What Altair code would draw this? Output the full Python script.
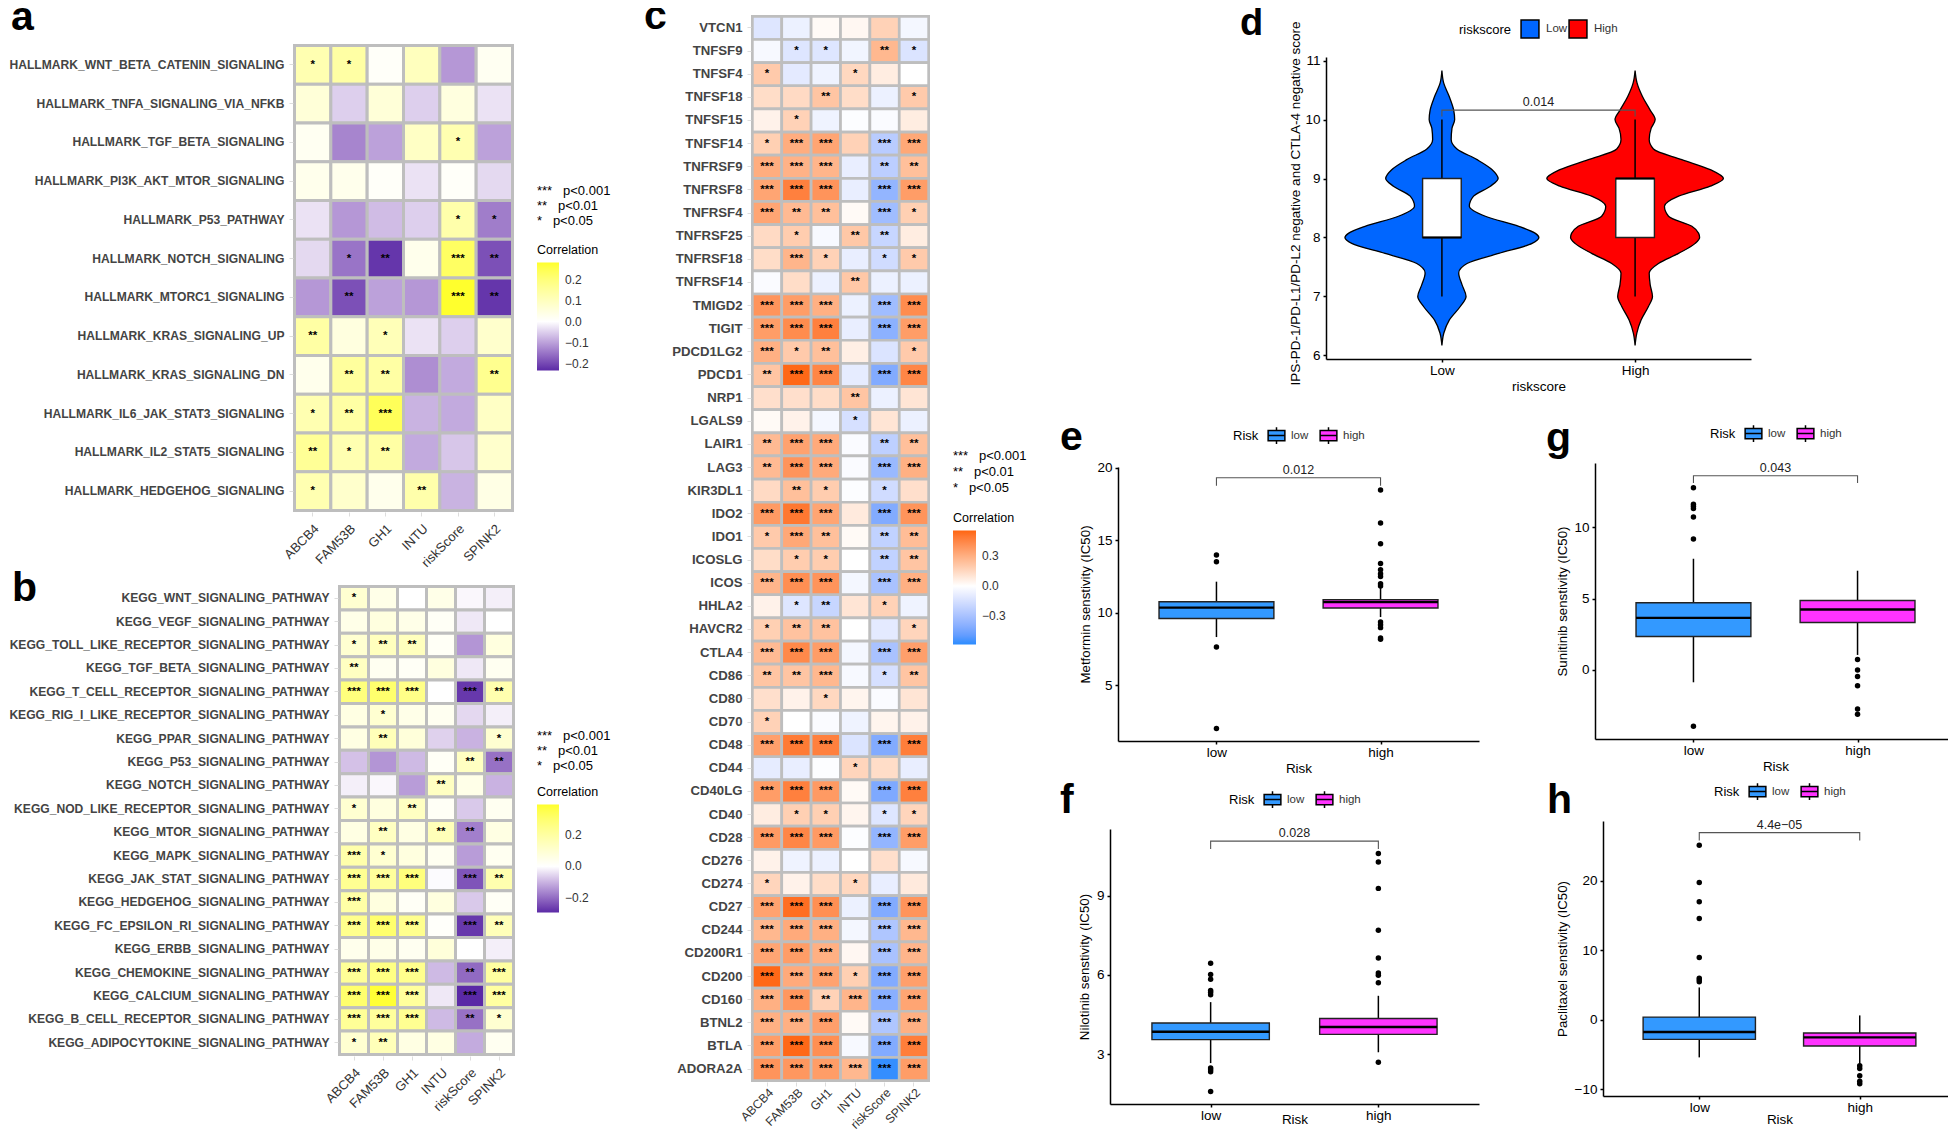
import altair as alt
import pandas as pd

GENES = ["ABCB4", "FAM53B", "GH1", "INTU", "riskScore", "SPINK2"]

A_ROWS = ["HALLMARK_WNT_BETA_CATENIN_SIGNALING", "HALLMARK_TNFA_SIGNALING_VIA_NFKB", "HALLMARK_TGF_BETA_SIGNALING",
          "HALLMARK_PI3K_AKT_MTOR_SIGNALING", "HALLMARK_P53_PATHWAY", "HALLMARK_NOTCH_SIGNALING",
          "HALLMARK_MTORC1_SIGNALING", "HALLMARK_KRAS_SIGNALING_UP", "HALLMARK_KRAS_SIGNALING_DN",
          "HALLMARK_IL6_JAK_STAT3_SIGNALING", "HALLMARK_IL2_STAT5_SIGNALING", "HALLMARK_HEDGEHOG_SIGNALING"]
A_VALUES = [
    [.12, .14, .01, .10, -.11, .02], [.06, -.05, .06, -.05, .05, -.03], [.02, -.13, -.10, .09, .12, -.10],
    [.03, .03, .01, -.03, .01, -.04], [-.03, -.11, -.07, -.05, .13, -.14], [-.04, -.15, -.22, .03, .23, -.19],
    [-.11, -.19, -.10, -.11, .28, -.22], [.14, .05, .11, -.03, -.05, .08], [.03, .15, .14, -.12, -.09, .17],
    [.12, .14, .24, -.08, -.09, .09], [.16, .12, .14, -.09, -.06, .08], [.12, .08, .03, .13, -.08, .04]]
A_STARS = ["110000", "000000", "000010", "000000", "000011", "012032", "020032", "201000", "022002", "123000",
           "212000", "100200"]

B_ROWS = ["KEGG_WNT_SIGNALING_PATHWAY", "KEGG_VEGF_SIGNALING_PATHWAY", "KEGG_TOLL_LIKE_RECEPTOR_SIGNALING_PATHWAY",
          "KEGG_TGF_BETA_SIGNALING_PATHWAY", "KEGG_T_CELL_RECEPTOR_SIGNALING_PATHWAY",
          "KEGG_RIG_I_LIKE_RECEPTOR_SIGNALING_PATHWAY", "KEGG_PPAR_SIGNALING_PATHWAY", "KEGG_P53_SIGNALING_PATHWAY",
          "KEGG_NOTCH_SIGNALING_PATHWAY", "KEGG_NOD_LIKE_RECEPTOR_SIGNALING_PATHWAY", "KEGG_MTOR_SIGNALING_PATHWAY",
          "KEGG_MAPK_SIGNALING_PATHWAY", "KEGG_JAK_STAT_SIGNALING_PATHWAY", "KEGG_HEDGEHOG_SIGNALING_PATHWAY",
          "KEGG_FC_EPSILON_RI_SIGNALING_PATHWAY", "KEGG_ERBB_SIGNALING_PATHWAY", "KEGG_CHEMOKINE_SIGNALING_PATHWAY",
          "KEGG_CALCIUM_SIGNALING_PATHWAY", "KEGG_B_CELL_RECEPTOR_SIGNALING_PATHWAY",
          "KEGG_ADIPOCYTOKINE_SIGNALING_PATHWAY"]
B_VALUES = [
    [.10, .05, .00, .05, -.01, -.02], [.05, .07, .05, .02, -.03, 0], [.10, .14, .14, .02, -.14, .07],
    [.13, .03, .02, .07, -.03, .03], [.27, .30, .25, .0, -.27, .17], [.06, .10, .05, .03, -.05, -.02],
    [.06, .15, .08, -.06, -.10, .10], [-.08, -.14, -.09, .02, .13, -.19], [-.02, -.01, -.13, .13, .05, -.10],
    [.10, .07, .13, .02, -.07, .03], [.06, .13, .06, .15, -.17, .06], [.18, .10, .07, .03, -.13, .03],
    [.23, .21, .27, -.005, -.23, .17], [.19, .07, .02, .07, -.07, .02], [.24, .30, .24, .01, -.27, .15],
    [.04, .05, .03, .08, 0, -.02], [.22, .26, .24, -.09, -.20, .20], [.30, .38, .21, -.03, -.29, .20],
    [.22, .21, .23, -.09, -.19, .10], [.10, .15, .06, .06, -.11, .03]]
B_STARS = ["100000", "000000", "122000", "200000", "333032", "010000", "020001", "000022", "000200", "102000",
           "020220", "310000", "333032", "300000", "333032", "000000", "333023", "333033", "333021", "120000"]

C_ROWS = ["VTCN1", "TNFSF9", "TNFSF4", "TNFSF18", "TNFSF15", "TNFSF14", "TNFRSF9", "TNFRSF8", "TNFRSF4", "TNFRSF25",
          "TNFRSF18", "TNFRSF14", "TMIGD2", "TIGIT", "PDCD1LG2", "PDCD1", "NRP1", "LGALS9", "LAIR1", "LAG3",
          "KIR3DL1", "IDO2", "IDO1", "ICOSLG", "ICOS", "HHLA2", "HAVCR2", "CTLA4", "CD86", "CD80", "CD70", "CD48",
          "CD44", "CD40LG", "CD40", "CD28", "CD276", "CD274", "CD27", "CD244", "CD200R1", "CD200", "CD160", "BTNL2",
          "BTLA", "ADORA2A"]
C_VALUES = [
    [-.12, -.07, .02, .03, .17, -.04], [-.03, -.12, -.12, -.05, .27, -.13], [.20, -.10, -.06, .15, .07, 0],
    [.13, .14, .22, .13, -.07, .20], [.05, .17, -.06, -.01, -.02, .07], [.18, .31, .34, .17, -.25, .33],
    [.31, .29, .28, -.08, -.24, .24], [.34, .47, .40, -.08, -.37, .37], [.34, .26, .24, .02, -.33, .18],
    [.14, .19, -.03, .21, -.20, .07], [.13, .28, .17, -.08, -.17, .20], [-.02, .13, -.07, .21, -.07, -.07],
    [.40, .37, .30, -.07, -.33, .43], [.37, .43, .47, -.08, -.39, .37], [.30, .20, .24, .06, -.13, .20],
    [.22, .55, .45, -.09, -.42, .45], [.12, .12, .13, .22, -.07, .10], [.02, .05, -.04, -.15, .10, -.07],
    [.26, .35, .32, -.02, -.23, .24], [.26, .40, .32, -.02, -.35, .30], [.14, .24, .19, -.01, -.17, .12],
    [.38, .50, .34, .08, -.42, .40], [.20, .33, .24, .02, -.22, .25], [.13, .19, .19, -.00, -.22, .22],
    [.28, .42, .40, -.04, -.30, .30], [.05, -.12, -.20, .10, .17, -.06], [.18, .23, .23, 0, -.10, .16],
    [.26, .44, .37, -.04, -.30, .36], [.22, .22, .27, -.03, -.15, .22], [.12, .05, .15, .04, -.02, .10],
    [.17, 0, -.02, -.06, .04, .05], [.36, .49, .47, -.13, -.42, .48], [-.09, -.08, -.01, .16, .13, -.08],
    [.37, .47, .38, .02, -.43, .47], [.07, .18, .18, .04, -.12, .16], [.38, .45, .38, -.01, -.37, .37],
    [.05, -.06, -.07, 0, .12, -.03], [.16, .05, .13, .15, -.08, .08], [.35, .53, .42, -.07, -.42, .40],
    [.27, .32, .30, -.04, -.28, .27], [.34, .37, .30, .03, -.30, .28], [.55, .32, .35, .18, -.42, .36],
    [.30, .39, .17, .28, -.40, .34], [.30, .30, .36, .02, -.28, .30], [.37, .55, .42, -.03, -.42, .48],
    [.40, .39, .37, .27, -.58, .37]]
C_STARS = ["000000", "011021", "100100", "002001", "010000", "133033", "333022", "333033", "322031", "010220",
           "031011", "000200", "333033", "333033", "312001", "233033", "000200", "000100", "233022", "233033",
           "021010", "333033", "132022", "011022", "333033", "012010", "122001", "333033", "223012", "001000",
           "100000", "333033", "000100", "333033", "011011", "333033", "000000", "100100", "333033", "333033",
           "333033", "333133", "332333", "333033", "333033", "333333"]

VIOLIN_Y = [10.83, 10.62, 10.39, 10.16, 10.0, 9.85, 9.66, 9.5, 9.32, 9.15, 9.0, 8.87, 8.7, 8.53, 8.36, 8.19, 8.07,
            8.0, 7.9, 7.73, 7.56, 7.4, 7.2, 7.0, 6.83, 6.6, 6.38, 6.17]
VIOLIN_LOW = [0, .009, .038, .061, .066, .052, .048, .078, .182, .26, .291, .251, .164, .142, .225, .398, .484, .502,
              .467, .294, .13, .087, .104, .125, .095, .038, .01, 0]
VIOLIN_HIGH = [0, .01, .038, .078, .104, .083, .073, .095, .242, .389, .457, .389, .225, .152, .173, .294, .329,
               .334, .311, .225, .121, .073, .078, .09, .069, .031, .009, 0]

BOX_E = {"low": [9.6, 10.35, 10.76, 8.32, 12.14], "high": [10.32, 10.74, 10.9, 9.7, 11.77]}
OUT_E = {"low": [13.98, 13.52, 7.63, 2.02],
         "high": [18.46, 16.18, 14.76, 13.4, 12.97, 12.69, 12.5, 12.0, 11.84, 9.36, 9.17, 8.97, 8.25, 8.16]}
BOX_F = {"low": [3.55, 3.85, 4.18, 2.66, 4.97], "high": [3.75, 4.03, 4.35, 3.07, 5.21]}
OUT_F = {"low": [6.44, 6.02, 5.84, 5.41, 5.34, 5.25, 2.47, 2.41, 2.33, 1.58],
         "high": [10.6, 10.28, 9.28, 7.69, 6.64, 6.07, 5.99, 5.7, 2.69]}
BOX_G = {"low": [2.34, 3.65, 4.71, -0.87, 7.8], "high": [3.33, 4.24, 4.87, 1.05, 6.96]}
OUT_G = {"low": [12.79, 11.62, 11.48, 11.33, 10.73, 9.18, -3.96], "high": [0.73, 0, -0.47, -1.12, -2.74, -3.11]}
BOX_H = {"low": [-2.82, -1.77, 0.38, -5.41, 4.64], "high": [-3.78, -2.54, -1.91, -6.46, 0.62]}
OUT_H = {"low": [25.07, 19.71, 16.94, 14.55, 8.95, 5.98, 5.74, 5.45], "high": [-6.6, -7.0, -8.04, -8.85, -9.19]}

FONT = "Liberation Sans"
M = 8  # page margin
HEIGHT = 1122
WIDTH = 1940
PURPLE = ["#5b2aa6", "#ffffff", "#ffff2b"]
ORANGE = ["#2b8cff", "#ffffff", "#ff6510"]
layers = []


def annotate(text, x, y, size=12, weight="normal", color="#000000", align="left", baseline="middle"):
    layers.append(alt.Chart(pd.DataFrame({"t": [text]})).mark_text(
        x=x - M, y=y - M, fontSize=size, fontWeight=weight, color=color, align=align, baseline=baseline, font=FONT
    ).encode(text="t:N"))


def heatmap(rows, values, stars, x0, x1, y0, y1, gutter, scheme, domain, ticks, leg, label_size, star_size,
            xfont=13, xpad=6):
    recs, srecs = [], []
    for r, vals, st in zip(rows, values, stars):
        for g, v, s in zip(GENES, vals, st):
            recs.append({"row": r, "gene": g, "value": v})
            if s != "0":
                srecs.append({"row": r, "gene": g, "star": "*" * int(s)})
    h = gutter / 2
    xs = alt.Scale(type="band", domain=GENES, range=[x0 + h - M, x1 - h - M], paddingInner=0, paddingOuter=0)
    ys = alt.Scale(type="band", domain=rows, range=[y0 + h - M, y1 - h - M], paddingInner=0, paddingOuter=0)
    xa = alt.Axis(orient="bottom", title=None, offset=y1 - M - HEIGHT, labelAngle=315, labelAlign="right",
                  labelBaseline="top", labelFont=FONT, labelFontSize=xfont, labelColor="#333333", domain=False,
                  ticks=True, tickColor="#dddddd", tickSize=4, grid=False, labelPadding=xpad, labelOverlap=False)
    ya = alt.Axis(orient="left", title=None, offset=-(x0 - M), labelFont=FONT, labelFontSize=label_size,
                  labelFontWeight="bold", labelColor="#444444", domain=False, ticks=True, tickColor="#dddddd",
                  tickSize=4, grid=False, labelPadding=5, labelLimit=500, labelOverlap=False)
    lg = alt.Legend(orient="none", legendX=leg[0] - M, legendY=leg[1] - M, title="Correlation", titleFont=FONT,
                    titleFontSize=12.5, titleFontWeight="normal", titleColor="#000000", titlePadding=6,
                    gradientLength=leg[2], gradientThickness=leg[3], gradientStrokeWidth=0, values=ticks, format=".1f",
                    labelFont=FONT, labelFontSize=12, labelColor="#333333", labelOffset=6, type="gradient")
    layers.append(alt.Chart(pd.DataFrame(recs)).mark_rect(stroke="#bebebe", strokeWidth=gutter).encode(
        x=alt.X("gene:N", scale=xs, axis=xa),
        y=alt.Y("row:N", scale=ys, axis=ya),
        fill=alt.Fill("value:Q", scale=alt.Scale(domain=domain, range=scheme, interpolate="lab"), legend=lg)))
    layers.append(alt.Chart(pd.DataFrame(srecs)).mark_text(font=FONT, fontSize=star_size, color="#000000", dy=0,
                                                           fontWeight="bold", baseline="middle").encode(
        x=alt.X("gene:N", scale=xs, axis=None),
        y=alt.Y("row:N", scale=ys, axis=None),
        text="star:N"))


def pos_axes(x0, x1, y0, y1, domain, ytitle, xtitle, yticks, labels, title_pad=4.5, xpad=3, ytfont=13.3, title_y=None):
    xa = alt.Axis(orient="bottom", offset=y1 - M - HEIGHT, title=xtitle, values=[1, 2],
                  labelExpr="datum.value == 1 ? '%s' : '%s'" % labels, labelFont=FONT, labelFontSize=13.5,
                  labelColor="#000000", titleFont=FONT, titleFontSize=13.5, titleFontWeight="normal",
                  titleColor="#000000", grid=False, domainColor="#000000", domainWidth=1.5, tickColor="#000000",
                  tickWidth=1.5, tickSize=3, labelPadding=1, titlePadding=xpad)
    extra = {} if title_y is None else {"titleY": title_y - M}
    ya = alt.Axis(orient="left", offset=-(x0 - M), title=ytitle, values=yticks, format="d", labelFont=FONT,
                  labelFontSize=13.5, labelColor="#000000", titleFont=FONT, titleFontSize=ytfont,
                  titleFontWeight="normal", titleColor="#000000", grid=False, domainColor="#000000", domainWidth=1.5,
                  tickColor="#000000", tickWidth=1.5, tickSize=3, labelPadding=3, titlePadding=title_pad, **extra)
    xs = alt.Scale(domain=[0.4, 2.6], range=[x0 - M, x1 - M], nice=False, zero=False)
    ys = alt.Scale(domain=domain, range=[y1 - M, y0 - M], nice=False, zero=False)
    return xs, ys, xa, ya


def key_legend(title, x, y, field_symbol, size, offset, cols):
    return alt.Legend(orient="none", legendX=x - M, legendY=y - M, direction="horizontal", titleOrient="left",
                      title=title, titleFont=FONT, titleFontSize=13, titleFontWeight="normal", titleColor="#000000",
                      titlePadding=8, titleAnchor="middle", labelFont=FONT, labelFontSize=11.5, labelColor="#333333",
                      symbolType=field_symbol, symbolSize=size, symbolStrokeColor="#000000", symbolStrokeWidth=1.5,
                      symbolOpacity=1, labelOffset=offset, columnPadding=cols, labelBaseline="middle")


BOX_SYMBOL = "M-1,-0.62H1V0.62H-1Z M-1,0H1 M0,-1V-0.62 M0,0.62V1"


def bracket(xs, ys, top, tip, text):
    df = pd.DataFrame({"px": [1, 1, 2, 2], "py": [tip, top, top, tip], "o": [0, 1, 2, 3]})
    layers.append(alt.Chart(df).mark_line(color="#555555", strokeWidth=1.1).encode(
        x=alt.X("px:Q", scale=xs, axis=None), y=alt.Y("py:Q", scale=ys, axis=None), order="o:O"))
    layers.append(alt.Chart(pd.DataFrame({"px": [1.5], "py": [top], "t": [text]})).mark_text(
        font=FONT, fontSize=12.5, color="#222222", baseline="bottom", dy=-1).encode(
        x=alt.X("px:Q", scale=xs, axis=None), y=alt.Y("py:Q", scale=ys, axis=None), text="t:N"))


def boxpanel(box, out, x0, x1, y0, y1, domain, ytitle, yticks, top, tip, ptext, leg, xpad=3):
    xs, ys, xa, ya = pos_axes(x0, x1, y0, y1, domain, ytitle, "Risk", yticks, ("low", "high"), xpad=xpad)
    rows = []
    for i, g in enumerate(["low", "high"], start=1):
        q1, med, q3, lo, hi = box[g]
        rows.append({"g": g, "p": i, "a": i - .35, "b": i + .35, "q1": q1, "med": med, "q3": q3, "lo": lo, "hi": hi})
    df = pd.DataFrame(rows)
    od = pd.DataFrame([{"p": i, "v": v} for i, g in enumerate(["low", "high"], start=1) for v in out[g]])
    lg = key_legend("Risk", leg[0], leg[1], BOX_SYMBOL, 280, 5, 8)
    layers.append(alt.Chart(df).mark_rule(color="#000000", strokeWidth=1.5).encode(
        x=alt.X("p:Q", scale=xs, axis=xa), y=alt.Y("lo:Q", scale=ys, axis=ya), y2="hi:Q"))
    layers.append(alt.Chart(df).mark_rect(stroke="#222222", strokeWidth=1.4).encode(
        x=alt.X("a:Q", scale=xs, axis=None), x2="b:Q", y=alt.Y("q1:Q", scale=ys, axis=None), y2="q3:Q",
        fill=alt.Fill("g:N", scale=alt.Scale(domain=["low", "high"], range=["#3399ff", "#ff33ff"]), legend=lg)))
    layers.append(alt.Chart(df).mark_rule(color="#000000", strokeWidth=2.4).encode(
        x=alt.X("a:Q", scale=xs, axis=None), x2="b:Q", y=alt.Y("med:Q", scale=ys, axis=None)))
    layers.append(alt.Chart(od).mark_circle(color="#000000", opacity=1, size=30).encode(
        x=alt.X("p:Q", scale=xs, axis=None), y=alt.Y("v:Q", scale=ys, axis=None)))
    bracket(xs, ys, top, tip, ptext)


# heatmaps
heatmap(A_ROWS, A_VALUES, A_STARS, 293, 514, 44, 512, 3, PURPLE, [-.233, 0, .281], [-.2, -.1, 0, .1, .2],
        (537, 244, 108, 22), 12.1, 11.5)
heatmap(B_ROWS, B_VALUES, B_STARS, 338, 515, 585, 1056, 3, PURPLE, [-.289, 0, .389], [-.2, 0, .2],
        (537, 786, 108, 22), 12.1, 11.5)
heatmap(C_ROWS, C_VALUES, C_STARS, 751, 930, 15, 1082, 2.7, ORANGE, [-.59, 0, .56], [-.3, 0, .3],
        (953, 512, 114, 23), 13.2, 11.5, xfont=12.2, xpad=0)

for x, y0 in [(537, 191), (537, 736), (953, 456)]:
    step = 15 if x == 537 else 16
    annotate("***\u00a0\u00a0\u00a0p<0.001", x, y0, 13)
    annotate("**\u00a0\u00a0\u00a0p<0.01", x, y0 + step, 13)
    annotate("\u00a0*\u00a0\u00a0\u00a0p<0.05", x, y0 + 2 * step, 13)

# violin d
xs, ys, xa, ya = pos_axes(1326, 1751, 57, 359, [5.94, 11.06], "IPS-PD-1/PD-L1/PD-L2 negative and CTLA-4 negative score",
                          "riskscore", [6, 7, 8, 9, 10, 11], ("Low", "High"), title_pad=2, ytfont=13.5, title_y=203)
vrecs = []
for g, p, ws in [("Low", 1, VIOLIN_LOW), ("High", 2, VIOLIN_HIGH)]:
    for y, w in zip(VIOLIN_Y, ws):
        vrecs.append({"g": g, "y": y, "l": p - w, "r": p + w})
vl = key_legend("riskscore", 1459, 19, "square", 320, 6, -2)
layers.append(alt.Chart(pd.DataFrame(vrecs)).mark_area(orient="horizontal", interpolate="monotone", stroke="#000000",
                                                       strokeWidth=1.3, opacity=1).encode(
    x=alt.X("l:Q", scale=xs, axis=xa), x2="r:Q", y=alt.Y("y:Q", scale=ys, axis=ya),
    fill=alt.Fill("g:N", scale=alt.Scale(domain=["Low", "High"], range=["#0066ff", "#ff0000"]), legend=vl)))
dbox = pd.DataFrame({"p": [1, 2], "a": [.9, 1.9], "b": [1.1, 2.1], "q1": [8, 8], "q3": [9, 9], "med": [8, 9],
                     "lo": [7, 7], "hi": [10, 10]})
layers.append(alt.Chart(dbox).mark_rule(color="#000000", strokeWidth=1.5).encode(
    x=alt.X("p:Q", scale=xs, axis=None), y=alt.Y("lo:Q", scale=ys, axis=None), y2="hi:Q"))
layers.append(alt.Chart(dbox).mark_rect(fill="#ffffff", stroke="#222222", strokeWidth=1.4).encode(
    x=alt.X("a:Q", scale=xs, axis=None), x2="b:Q", y=alt.Y("q1:Q", scale=ys, axis=None), y2="q3:Q"))
layers.append(alt.Chart(dbox).mark_rule(color="#000000", strokeWidth=2).encode(
    x=alt.X("a:Q", scale=xs, axis=None), x2="b:Q", y=alt.Y("med:Q", scale=ys, axis=None)))
bracket(xs, ys, 10.16, 10.05, "0.014")

boxpanel(BOX_E, OUT_E, 1118, 1479, 467, 741, [1.15, 20.05], "Metformin senstivity (IC50)", [5, 10, 15, 20], 19.31, 18.76,
         "0.012", (1233, 426))
boxpanel(BOX_G, OUT_G, 1595, 1956, 463, 739, [-4.85, 14.52], "Sunitinib senstivity (IC50)", [0, 5, 10], 13.63, 13.11,
         "0.043", (1710, 424))
boxpanel(BOX_F, OUT_F, 1110, 1479, 829, 1104, [1.11, 11.53], "Nilotinib senstivity (IC50)", [3, 6, 9], 11.07, 10.77,
         "0.028", (1229, 790), xpad=-9)
boxpanel(BOX_H, OUT_H, 1603, 1956, 821, 1096, [-10.96, 28.56], "Paclitaxel senstivity (IC50)", [-10, 0, 10, 20], 26.89,
         25.74, "4.4e\u221205", (1714, 782), xpad=-1)

for letter, x, y, size in [("a", 11, 30, 41), ("b", 12, 601, 41), ("c", 644, 29, 41), ("d", 1240, 35, 38),
                           ("e", 1060, 450, 41), ("f", 1060, 813, 41), ("g", 1546, 451, 41), ("h", 1547, 813, 41)]:
    annotate(letter, x, y, size, "bold", "#000000", "left", "alphabetic")

chart = alt.layer(*layers).resolve_scale(x="independent", y="independent", fill="independent").resolve_axis(
    x="independent", y="independent").resolve_legend(fill="independent").properties(
    width=WIDTH, height=HEIGHT, padding=0, autosize=alt.AutoSizeParams(type="none"), background="#ffffff"
).configure_view(stroke=None)

chart.save("out.html", embed_options={"renderer": "svg", "actions": False})
